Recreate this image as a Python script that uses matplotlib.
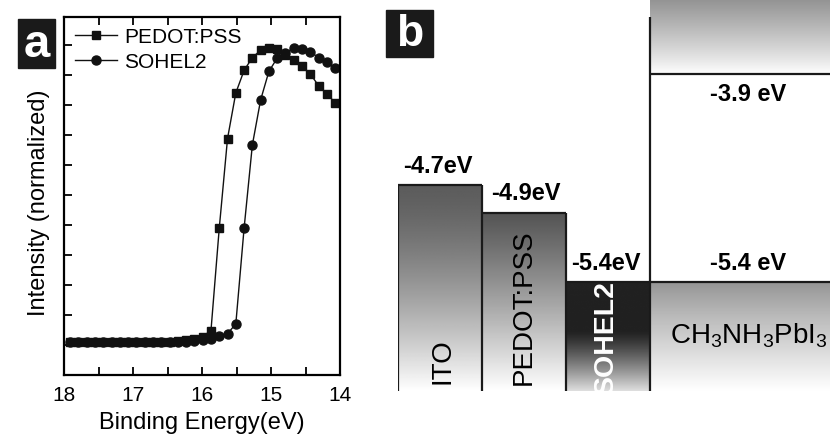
import matplotlib.pyplot as plt
import numpy as np
from matplotlib.patches import Rectangle

plt.rcParams['font.family'] = ['Liberation Sans', 'DejaVu Sans']
plt.rcParams['mathtext.fontset'] = 'custom'
plt.rcParams['mathtext.rm'] = 'Liberation Sans'
plt.rcParams['mathtext.it'] = 'Liberation Sans:italic'
plt.rcParams['mathtext.bf'] = 'Liberation Sans:bold'

# ---- panel a: UPS cutoff ----
energy = [17.91, 17.79, 17.67, 17.55, 17.43, 17.31, 17.19, 17.07, 16.95,
          16.83, 16.71, 16.59, 16.47, 16.35, 16.23, 16.11, 15.99, 15.87,
          15.75, 15.63, 15.51, 15.39, 15.27, 15.15, 15.03, 14.91, 14.79,
          14.67, 14.55, 14.43, 14.31, 14.19, 14.07]
pedot = [0.110, 0.110, 0.110, 0.110, 0.110, 0.110, 0.110, 0.110, 0.110,
         0.110, 0.110, 0.110, 0.110, 0.112, 0.115, 0.121, 0.128, 0.148,
         0.489, 0.788, 0.940, 1.015, 1.058, 1.082, 1.089, 1.087, 1.067,
         1.051, 1.029, 1.003, 0.964, 0.937, 0.907]
sohel = [0.110, 0.110, 0.110, 0.110, 0.110, 0.110, 0.110, 0.110, 0.110,
         0.110, 0.110, 0.110, 0.110, 0.110, 0.111, 0.113, 0.117, 0.121,
         0.129, 0.138, 0.170, 0.489, 0.767, 0.917, 1.012, 1.056, 1.073,
         1.090, 1.087, 1.077, 1.058, 1.042, 1.022]
series_names = ['PEDOT:PSS', 'SOHEL2']
xticks = [18, 17, 16, 15, 14]

# ---- panel b: energy levels (eV) ----
layers = ['ITO', 'PEDOT:PSS', 'SOHEL2', 'perovskite']
homo = [-4.7, -4.9, -5.4, -5.4]
homo_labels = ['-4.7eV', '-4.9eV', '-5.4eV', '-5.4 eV']
lumo_perovskite = -3.9
lumo_label = '-3.9 eV'

W, H = 830, 435
fig = plt.figure(figsize=(W / 100, H / 100), dpi=100)

ax = fig.add_axes([64 / W, 59 / H, 276 / W, 358 / H])
ax.plot(energy, pedot, '-s', color='#111111', lw=1.0, ms=5.5,
        label=series_names[0])
ax.plot(energy, sohel, '-o', color='#111111', lw=1.0, ms=6.5,
        label=series_names[1])
ax.set_xlim(18, 14)
ax.set_ylim(0, 1.193)
ax.set_xticks(xticks)
ax.set_xticks(np.arange(14.5, 18, 1.0), minor=True)
ax.set_yticks(np.arange(0.1, 1.15, 0.1))
ax.set_yticklabels([])
ax.tick_params(axis='x', which='both', direction='in', top=True,
               labelsize=15, width=1.3, pad=7, length=6)
ax.tick_params(axis='y', direction='in', length=6, width=1.3)
for s in ax.spines.values():
    s.set_linewidth(1.6)
ax.set_xlabel('Binding Energy(eV)', fontsize=17, labelpad=5)
ax.set_ylabel('Intensity (normalized)', fontsize=17)
ax.yaxis.set_label_coords(-0.05, 0.483)
ax.legend(loc='upper left', frameon=False, fontsize=15, handlelength=2.0,
          handletextpad=0.35, labelspacing=0.3, borderaxespad=0.0,
          bbox_to_anchor=(0.01, 0.995))

# panel letters
fig.add_artist(Rectangle((18 / W, 1 - 69 / H), 37 / W, 49 / H,
                         transform=fig.transFigure, color='#1a1a1a'))
fig.text(36.5 / W, 1 - 45 / H, 'a', color='white', fontsize=34,
         fontweight='bold', ha='center', va='center')
fig.add_artist(Rectangle((386 / W, 1 - 58 / H), 47 / W, 47 / H,
                         transform=fig.transFigure, color='#1a1a1a'))
fig.text(409.5 / W, 1 - 35 / H, 'b', color='white', fontsize=32,
         fontweight='bold', ha='center', va='center')

# ---- band diagram ----
bx = fig.add_axes([398 / W, 43 / H, 432 / W, 392 / H])
ylo, yhi = -6.183, -3.361
xmax = 432 / 84
bx.set_xlim(0, xmax)
bx.set_ylim(ylo, yhi)
bx.axis('off')

lefts = [0, 1, 2, 3]
rights = [1, 2, 3, xmax]
t = np.linspace(0, 1, 256)[:, None]
grads = [
    0.36 + 0.64 * t ** 1.4,
    0.33 + 0.67 * t ** 1.1,
    0.13 + 0.74 * np.clip((t - 0.45) / 0.55, 0, 1) ** 1.2,
    0.58 + 0.42 * t ** 0.9,
]
for x0, x1, top, g in zip(lefts, rights, homo, grads):
    bx.imshow(g, cmap='gray', vmin=0, vmax=1, aspect='auto',
              extent=(x0, x1, ylo, top), zorder=1)
# conduction band of perovskite
bx.imshow(1.0 - 0.42 * t[::-1] ** 0.9, cmap='gray', vmin=0, vmax=1,
          aspect='auto', extent=(3, xmax, lumo_perovskite, yhi - 0.01),
          zorder=1)

lc = dict(color='#1a1a1a', lw=1.6, zorder=3, solid_capstyle='butt')
bx.plot([0, 0], [ylo, homo[0]], **lc)
for x0, x1, top in zip(lefts, rights, homo):
    bx.plot([x0, x1], [top, top], **lc)
for x1, top in zip(rights[:2], homo[:2]):
    bx.plot([x1, x1], [ylo, top], **lc)
bx.plot([3, 3], [ylo, -3.49], **lc)
bx.plot([3, xmax], [lumo_perovskite, lumo_perovskite], **lc)

centers = [(a + b) / 2 for a, b in zip(lefts, rights)]
label_x = [centers[0] - 0.03, centers[1] + 0.02, centers[2] - 0.02,
           centers[3] + 0.1]
for xc, top, lab in zip(label_x, homo, homo_labels):
    bx.text(xc, top + 0.06, lab, fontsize=17, fontweight='bold',
            ha='center', va='bottom', zorder=4)
bx.text(centers[3] + 0.1, lumo_perovskite - 0.06, lumo_label, fontsize=17,
        fontweight='bold', ha='center', va='top', zorder=4)

bx.text(centers[0] + 0.03, ylo + 0.06, 'ITO', fontsize=20, rotation=90,
        ha='center', va='bottom', zorder=4)
bx.text(centers[1], ylo + 0.05, 'PEDOT:PSS', fontsize=20, rotation=90,
        ha='center', va='bottom', zorder=4)
bx.text(centers[2] - 0.02, ylo - 0.02, 'SOHEL2', fontsize=20.5,
        fontweight='bold', color='white', rotation=90, ha='center',
        va='bottom', zorder=4)
bx.text(centers[3] + 0.1, -5.78,
        r'CH$_\mathregular{3}$NH$_\mathregular{3}$PbI$_\mathregular{3}$',
        fontsize=20, ha='center', va='center', zorder=4)

plt.savefig('out.png', dpi=100)
